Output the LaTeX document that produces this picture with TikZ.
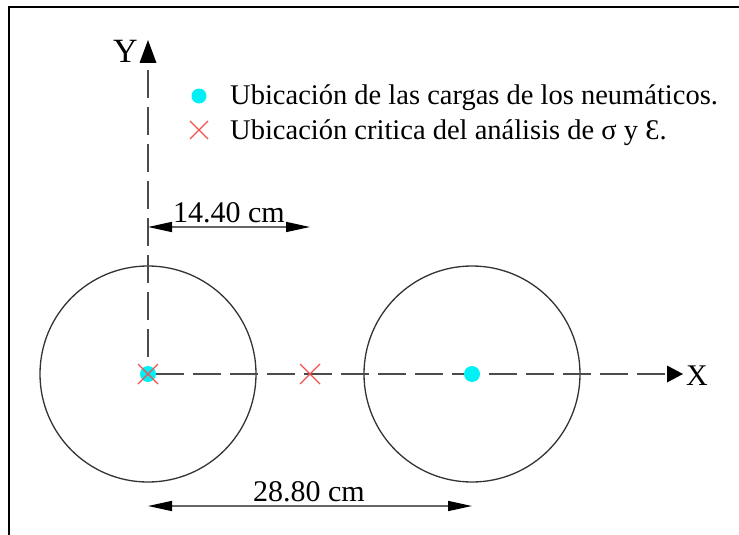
\documentclass[tikz,border=0pt]{standalone}
\usepackage{fontspec}
\setmainfont{Liberation Serif}
\usetikzlibrary{arrows.meta}
\definecolor{loadcyan}{RGB}{0,240,245}
\definecolor{critred}{RGB}{245,80,80}
\begin{document}
\begin{tikzpicture}[x=1pt,y=-1pt,
  axisline/.style={draw=black!70, line width=1.5pt, dash pattern=on 28pt off 9pt},
  tire/.style={draw=black!80, line width=1.3pt, circle, minimum size=216pt, inner sep=0pt},
  load/.style={fill=loadcyan, draw=none, circle, minimum size=16pt, inner sep=0pt},
  crit/.style={draw=critred, line width=1.4pt},
  dimline/.style={draw=black!60, line width=1.6pt, {Triangle[length=24pt,width=10pt,black]}-{Triangle[length=24pt,width=10pt,black]}},
  lbl/.style={font=\fontsize{28.5}{32}\selectfont, inner sep=0pt},
  dimlbl/.style={font=\fontsize{30}{34}\selectfont, inner sep=0pt},
  axlbl/.style={inner sep=0pt}
]
\useasboundingbox (0,0) rectangle (739,535);
% frame
\draw[line width=2pt] (739,7) -- (9,7) -- (9,535);
% tires
\node[tire] (T1) at (148,374) {};
\node[tire] (T2) at (472,374) {};
% axes
\coordinate (O) at (148,374);
\coordinate (Ys) at (148,70);
\coordinate (Xs) at (665,374);
\draw[axisline] (Ys) -- (O);
\draw[axisline] (Xs) -- (O);
\fill (148,40) -- (139.5,63) -- (156.5,63) -- cycle;
\fill (683,374) -- (667,365.5) -- (667,382.5) -- cycle;
\node[axlbl, anchor=base east, font=\fontsize{34}{36}\selectfont] (Ylbl) at (138,63) {Y};
\node[axlbl, anchor=base west, font=\fontsize{30}{34}\selectfont] (Xlbl) at (686,385) {X};
% loads and critical points
\node[load] (L1) at (148,374) {};
\node[load] (L2) at (472,374) {};
\draw[crit] (138,364) -- (158,384) (138,384) -- (158,364);
\draw[crit] (300,364) -- (320,384) (300,384) -- (320,364);
% legend
\node[load, minimum size=15pt] (LegDot) at (199,96) {};
\draw[crit] (190,121) -- (208,139) (190,139) -- (208,121);
\node[lbl, anchor=base west] (Leg1) at (230,104) {Ubicación de las cargas de los neumáticos.};
\node[lbl, anchor=base west] (Leg2) at (230,139) {Ubicación critica del análisis de σ y Ɛ.};
% dimensions
\coordinate (D1a) at (148,227);
\coordinate (D1b) at (310,227);
\draw[dimline] (D1a) -- (D1b);
\node[dimlbl, anchor=base] (D1lbl) at (229,222) {14.40 cm};
\coordinate (D2a) at (148,506);
\coordinate (D2b) at (472,506);
\draw[dimline] (D2a) -- (D2b);
\node[dimlbl, anchor=base] (D2lbl) at (309,501) {28.80 cm};
\end{tikzpicture}
\end{document}
